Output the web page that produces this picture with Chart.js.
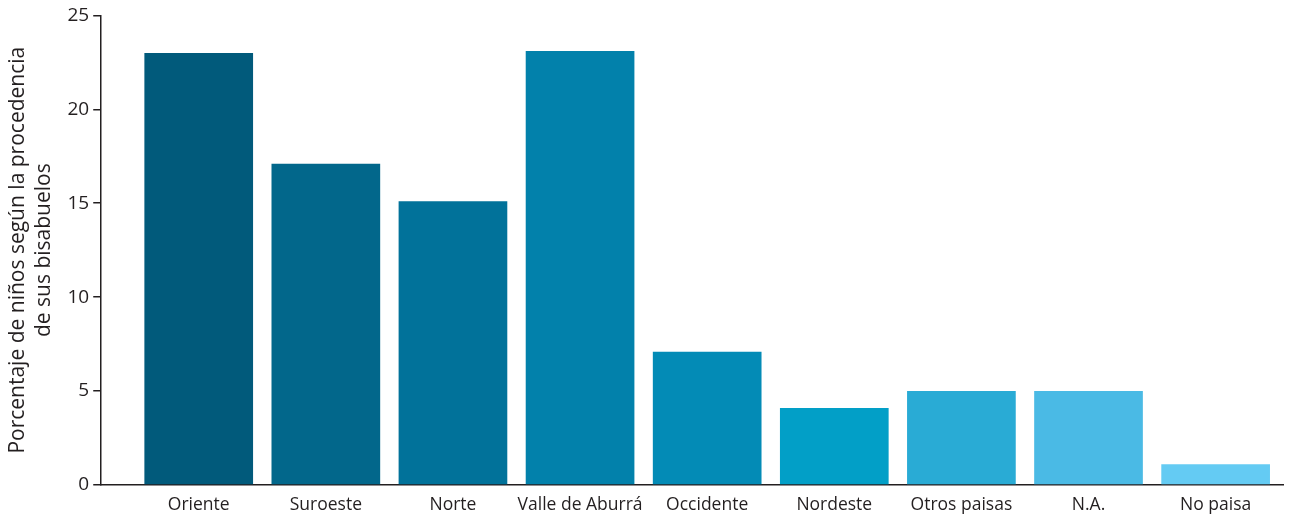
<!DOCTYPE html>
<html>
<head>
<meta charset="utf-8">
<script src="https://cdn.jsdelivr.net/npm/chart.js@4"></script>
<style>
  body { margin: 0; background: #fff; }
  #wrap { width: 1294px; height: 519px; }
</style>
</head>
<body>
<div id="wrap"><canvas id="myChart" width="1294" height="519"></canvas></div>
<script>
// datos del gráfico
var categorias = ['Oriente', 'Suroeste', 'Norte', 'Valle de Aburrá', 'Occidente', 'Nordeste', 'Otros paisas', 'N.A.', 'No paisa'];
var valores = [23.0, 17.1, 15.1, 23.1, 7.1, 4.1, 5.0, 5.0, 1.1];
var colores = ['#015a7b', '#02678b', '#01729a', '#0281ab', '#038bb6', '#029fc7', '#29abd5', '#4abae5', '#64cbf3'];
var yTicks = [0, 5, 10, 15, 20, 25];
var tituloY = ['Porcentaje de niños según la procedencia', 'de sus bisabuelos'];

var puntos = valores.map(function (v, i) { return { x: i, y: v }; });
var ejeColor = '#231f20';

window.onload = function () {
    var ctx = document.getElementById('myChart').getContext('2d');
    new Chart(ctx, {
        type: 'bar',
        data: {
            datasets: [{
                data: puntos,
                backgroundColor: colores,
                borderWidth: 0,
                barPercentage: 0.855,
                categoryPercentage: 1
            }]
        },
        options: {
            responsive: false,
            animation: false,
            layout: { padding: { top: 12, right: 11, left: 5, bottom: 1 } },
            plugins: { legend: { display: false }, tooltip: { enabled: false } },
            scales: {
                x: {
                    type: 'linear',
                    min: -0.767,
                    max: 8.53,
                    offset: false,
                    afterBuildTicks: function (axis) {
                        axis.ticks = categorias.map(function (c, i) { return { value: i }; });
                    },
                    ticks: {
                        autoSkip: false,
                        maxRotation: 0,
                        color: '#231f20',
                        padding: 2,
                        font: { family: 'Open Sans', size: 17.5 },
                        callback: function (v) { return categorias[v]; }
                    },
                    grid: { display: false },
                    border: { display: true, color: ejeColor, width: 1.5 }
                },
                y: {
                    min: 0,
                    max: 25,
                    afterBuildTicks: function (axis) {
                        axis.ticks = yTicks.map(function (v) { return { value: v }; });
                    },
                    ticks: {
                        color: '#231f20',
                        padding: 4,
                        font: { family: 'Open Sans', size: 19 }
                    },
                    grid: { drawOnChartArea: false, drawTicks: true, tickLength: 8, color: ejeColor, lineWidth: 1.5 },
                    border: { display: true, color: ejeColor, width: 1.5 },
                    title: {
                        display: true,
                        text: tituloY,
                        color: '#231f20',
                        padding: { top: 0, bottom: 6 },
                        font: { family: 'Open Sans', size: 21, lineHeight: 1.25 }
                    }
                }
            }
        }
    });
};
</script>
</body>
</html>
